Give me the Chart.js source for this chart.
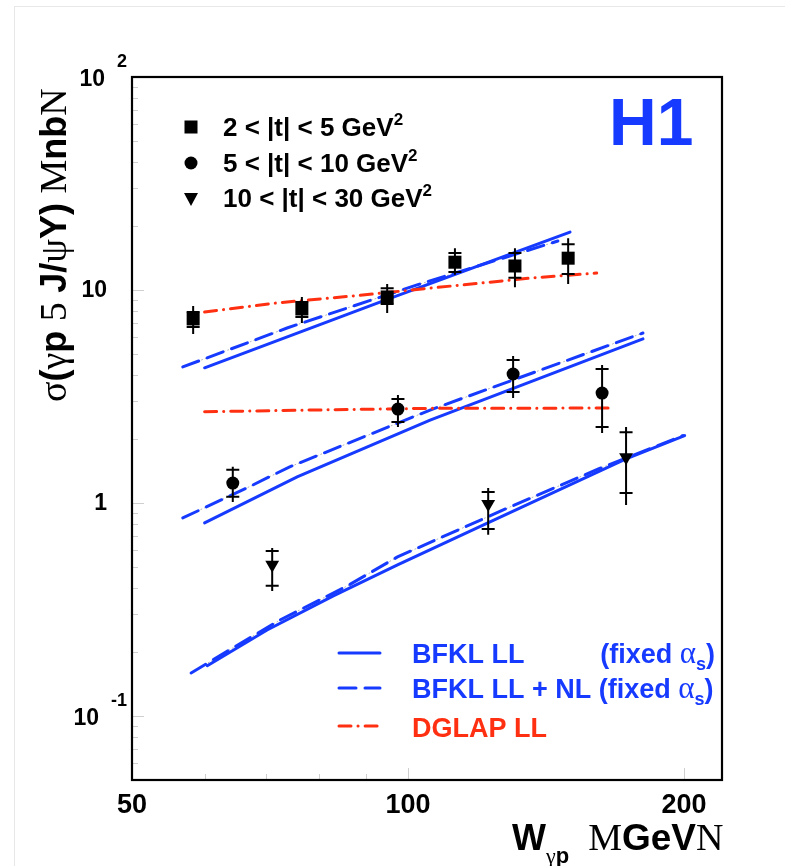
<!DOCTYPE html>
<html>
<head>
<meta charset="utf-8">
<script src="https://cdn.jsdelivr.net/npm/chart.js@4.4.0/dist/chart.umd.min.js"></script>
<style>
  html, body { margin: 0; padding: 0; background: #fff; }
  #wrap { position: relative; width: 785px; height: 866px; overflow: hidden; }
  #edge { position: absolute; left: 14px; top: 6px; width: 900px; height: 900px;
          border-left: 1px solid #e8e8e8; border-top: 1px solid #e8e8e8; }
  canvas { position: absolute; left: 0; top: 0; }
</style>
</head>
<body>
<div id="wrap"><div id="edge"></div><canvas id="chart" width="785" height="866"></canvas></div>
<script>
// data points: W (GeV), sigma (nb), total errors and stat-error ticks
const wT1 = [58.3, 76.6, 94.9, 112.5, 130.8, 149.5];
const sigT1 = [7.31, 8.14, 9.27, 13.5, 12.96, 14.1];
const totHiT1 = [8.41, 9.27, 10.67, 15.7, 15.7, 17.5];
const totLoT1 = [6.22, 7.0, 7.80, 11.8, 10.3, 10.67];
const statHiT1 = [7.88, 8.78, 10.2, 14.9, 14.9, 16.4];
const statLoT1 = [6.70, 7.47, 8.60, 12.15, 11.4, 11.9];

const wT2 = [64.4, 97.5, 130.2, 162.8];
const sigT2 = [1.24, 2.76, 4.03, 3.28];
const totHiT2 = [1.48, 3.21, 4.90, 4.44];
const totLoT2 = [1.01, 2.27, 3.11, 2.13];
const statHiT2 = [1.43, 3.08, 4.69, 4.26];
const statLoT2 = [1.07, 2.40, 3.32, 2.27];

const wT3 = [71.1, 122.3, 172.9];
const sigT3 = [0.512, 0.989, 1.64];
const totHiT3 = [0.615, 1.176, 2.27];
const totLoT3 = [0.386, 0.708, 0.979];
const statHiT3 = [0.595, 1.126, 2.15];
const statLoT3 = [0.408, 0.755, 1.114];

// model curves
const llW1 = [60, 94.6, 150.2];
const llS1 = [4.31, 8.98, 18.7];
const nlW1 = [56.8, 73.8, 102.3, 145.7];
const nlS1 = [4.35, 6.63, 10.56, 16.98];
const dgW1 = [60, 71.9, 87.1, 105.7, 136.9, 160.6];
const dgS1 = [7.88, 8.69, 9.37, 10.2, 11.4, 12.0];

const llW2 = [60, 75.7, 105.7, 180.4];
const llS2 = [0.806, 1.325, 2.45, 5.89];
const nlW2 = [56.8, 66.7, 74.1, 105.7, 130.2, 180.4];
const nlS2 = [0.85, 1.175, 1.47, 2.73, 3.78, 6.28];
const dgW2 = [60, 82.9, 105.7, 167.3];
const dgS2 = [2.68, 2.74, 2.78, 2.79];

const llW3 = [60.4, 70.2, 82.9, 97.4, 122.2, 172.9, 200.3];
const llS3 = [0.172, 0.253, 0.366, 0.512, 0.806, 1.609, 2.07];
const nlW3 = [58.0, 64.4, 72.5, 85.9, 97.4, 127, 161.3, 199.4];
const nlS3 = [0.159, 0.2085, 0.282, 0.408, 0.558, 0.927, 1.444, 2.07];

// axis labels
const xTickVals = [50, 100, 200];
const xTickText = ['50', '100', '200'];
const xMinor = [60, 70, 80, 90];
const yTickVals = [0.1, 1, 10, 100];
const yTickText = ['10', '1', '10', '10'];
const yTickSup = ['-1', '', '', '2'];
const tLabels = ['2 < |t| < 5 GeV', '5 < |t| < 10 GeV', '10 < |t| < 30 GeV'];

const BLUE = 'rgb(22,58,255)';
const RED = 'rgb(255,48,18)';
const B = n => `bold ${n}px "Liberation Sans", Arial, sans-serif`;
const S = n => `${n}px "Liberation Serif", "Times New Roman", serif`;

const pts = (xs, ys) => xs.map((v, i) => ({ x: v, y: ys[i] }));

const marker = (w, s, style, r, rot) => ({
    data: pts(w, s), pointStyle: style, pointRadius: r, rotation: rot || 0,
    backgroundColor: '#000', borderWidth: 0, showLine: false, order: 0
});
const curve = (w, s, color, dash, width, order) => ({
    data: pts(w, s), showLine: true, pointRadius: 0, borderColor: color,
    borderWidth: width, borderDash: dash, borderCapStyle: 'round', tension: 0, order: order
});

const datasets = [
    marker(wT1, sigT1, 'rect', 9.2),
    marker(wT2, sigT2, 'circle', 6.5),
    marker(wT3, sigT3, 'triangle', 8, 180),
    curve(llW1, llS1, BLUE, [], 3, 2),
    curve(nlW1, nlS1, BLUE, [17, 9], 3, 2),
    curve(nlW1, nlS1, 'rgba(150,150,150,0.7)', [1, 3], 1, 3),
    curve(dgW1, dgS1, RED, [12, 7, 0.1, 7], 3, 1),
    curve(llW2, llS2, BLUE, [], 3, 2),
    curve(nlW2, nlS2, BLUE, [17, 9], 3, 2),
    curve(nlW2, nlS2, 'rgba(150,150,150,0.7)', [1, 3], 1, 3),
    curve(dgW2, dgS2, RED, [12, 7, 0.1, 7], 3, 1),
    curve(llW3, llS3, BLUE, [], 3, 2),
    curve(nlW3, nlS3, BLUE, [17, 9], 3, 2),
    curve(nlW3, nlS3, 'rgba(150,150,150,0.7)', [1, 3], 1, 3)
];

const errSets = [
    { w: wT1, hi: totHiT1, lo: totLoT1, sHi: statHiT1, sLo: statLoT1 },
    { w: wT2, hi: totHiT2, lo: totLoT2, sHi: statHiT2, sLo: statLoT2 },
    { w: wT3, hi: totHiT3, lo: totLoT3, sHi: statHiT3, sLo: statLoT3 }
];

// draws a row of text pieces with mixed fonts, returns its width
function runs(ctx, x, y, parts, measureOnly) {
    let cx = x;
    parts.forEach(([t, f, dy]) => {
        ctx.font = f;
        if (!measureOnly) ctx.fillText(t, cx, y + (dy || 0));
        cx += ctx.measureText(t).width;
    });
    return cx - x;
}

const decor = {
    id: 'decor',
    afterDatasetsDraw(chart) {
        const { ctx, scales: { x, y } } = chart;
        ctx.save();
        ctx.strokeStyle = '#000';
        ctx.lineWidth = 2;
        errSets.forEach(s => {
            s.w.forEach((w, i) => {
                const px = x.getPixelForValue(w);
                ctx.beginPath();
                ctx.moveTo(px, y.getPixelForValue(s.hi[i]));
                ctx.lineTo(px, y.getPixelForValue(s.lo[i]));
                [s.sHi[i], s.sLo[i]].forEach(v => {
                    const py = y.getPixelForValue(v);
                    ctx.moveTo(px - 6.5, py);
                    ctx.lineTo(px + 6.5, py);
                });
                ctx.stroke();
            });
        });
        ctx.restore();
    },
    afterDraw(chart) {
        const { ctx, chartArea: a, scales: { x, y } } = chart;
        ctx.save();

        // ticks
        ctx.strokeStyle = '#cfcfcf';
        ctx.lineWidth = 1;
        ctx.beginPath();
        for (let k = -2; k <= 1; k++) {
            for (let m = 1; m <= 9; m++) {
                const v = m * Math.pow(10, k);
                if (v <= 0.05 || v >= 100) continue;
                const py = Math.round(y.getPixelForValue(v)) + 0.5;
                ctx.moveTo(a.left, py);
                ctx.lineTo(a.left + (m === 1 ? 12 : 6), py);
            }
        }
        xMinor.concat([100, 200]).forEach(v => {
            const px = Math.round(x.getPixelForValue(v)) + 0.5;
            ctx.moveTo(px, a.bottom);
            ctx.lineTo(px, a.bottom - (v >= 100 ? 12 : 6));
        });
        ctx.stroke();

        // frame
        ctx.strokeStyle = '#000';
        ctx.lineWidth = 2.2;
        ctx.strokeRect(a.left, a.top, a.right - a.left, a.bottom - a.top);

        ctx.fillStyle = '#000';
        // y tick labels
        ctx.textBaseline = 'middle';
        yTickVals.forEach((v, i) => {
            const py = y.getPixelForValue(v) + 1;
            ctx.font = B(23);
            const bw = ctx.measureText(yTickText[i]).width;
            if (yTickSup[i]) {
                ctx.font = B(18);
                const sw = ctx.measureText(yTickSup[i]).width;
                const bx = 127 - sw - 12;
                ctx.fillText(yTickSup[i], bx + 12, py - 16);
                ctx.font = B(23);
                ctx.fillText(yTickText[i], bx - bw, py + 2);
            } else {
                ctx.fillText(yTickText[i], 107 - bw, py);
            }
        });
        // x tick labels
        ctx.textBaseline = 'alphabetic';
        ctx.textAlign = 'center';
        ctx.font = B(27);
        xTickVals.forEach((v, i) => {
            ctx.fillText(xTickText[i], x.getPixelForValue(v), 813);
        });
        ctx.textAlign = 'left';

        // x title
        runs(ctx, 512, 850, [
            ['W', B(36)], ['γ', S(22), 13], ['p', B(22), 13],
            ['  M', S(38)], ['GeV', B(37)], ['N', S(38)]
        ]);

        // y title
        ctx.save();
        ctx.translate(66, 402);
        ctx.rotate(-Math.PI / 2);
        runs(ctx, 0, 0, [
            ['σ', S(38)], ['(', B(36)], ['γ', S(38)], ['p', B(36)], [' 5 ', S(38)],
            ['J/', B(36)], ['ψ', S(38)], ['Y)', B(36)], [' M', S(38)], ['nb', B(36)], ['N', S(38)]
        ]);
        ctx.restore();

        // H1 label
        ctx.fillStyle = BLUE;
        ctx.font = B(66);
        ctx.fillText('H1', 609, 145);

        // top legend
        ctx.fillStyle = '#000';
        const ly = [127, 163, 198];
        ctx.fillRect(191 - 6.5, ly[0] - 6.5, 13, 13);
        ctx.beginPath();
        ctx.arc(191, ly[1], 6.5, 0, Math.PI * 2);
        ctx.fill();
        ctx.beginPath();
        ctx.moveTo(191 - 7, ly[2] - 5);
        ctx.lineTo(191 + 7, ly[2] - 5);
        ctx.lineTo(191, ly[2] + 8);
        ctx.closePath();
        ctx.fill();
        tLabels.forEach((t, i) => {
            runs(ctx, 223, ly[i] + 9, [[t, B(26)], ['2', B(17), -11]]);
        });

        // bottom legend
        const rows = [653, 688, 726];
        ctx.lineWidth = 3;
        ctx.lineCap = 'round';
        ctx.strokeStyle = BLUE;
        ctx.beginPath(); ctx.moveTo(339, rows[0]); ctx.lineTo(380, rows[0]); ctx.stroke();
        ctx.setLineDash([17, 9]);
        ctx.beginPath(); ctx.moveTo(339, rows[1]); ctx.lineTo(380, rows[1]); ctx.stroke();
        ctx.strokeStyle = RED;
        ctx.setLineDash([12, 7, 0.1, 7]);
        ctx.beginPath(); ctx.moveTo(339, rows[2]); ctx.lineTo(380, rows[2]); ctx.stroke();
        ctx.setLineDash([]);

        const alphaS = [['α', S(31)], ['s', B(18), 7], [')', B(27)]];
        ctx.fillStyle = BLUE;
        runs(ctx, 412, 663, [['BFKL LL', B(27)]]);
        const fx = [['(fixed ', B(27)]].concat(alphaS);
        const fw = runs(ctx, 0, 0, fx, true);
        runs(ctx, 715 - fw, 663, fx);
        runs(ctx, 412, 698, [['BFKL LL + NL (fixed ', B(27)]].concat(alphaS));
        ctx.fillStyle = RED;
        runs(ctx, 412, 737, [['DGLAP LL', B(27)]]);

        ctx.restore();
    }
};

new Chart(document.getElementById('chart'), {
    type: 'scatter',
    data: { datasets: datasets },
    options: {
        responsive: false,
        animation: false,
        devicePixelRatio: 1,
        layout: { padding: { left: 132, top: 77, right: 63, bottom: 86 } },
        scales: {
            x: { type: 'logarithmic', min: 50, max: 220, display: false },
            y: { type: 'logarithmic', min: 0.05, max: 100, display: false }
        },
        plugins: { legend: { display: false }, tooltip: { enabled: false } }
    },
    plugins: [decor]
});
</script>
</body>
</html>
